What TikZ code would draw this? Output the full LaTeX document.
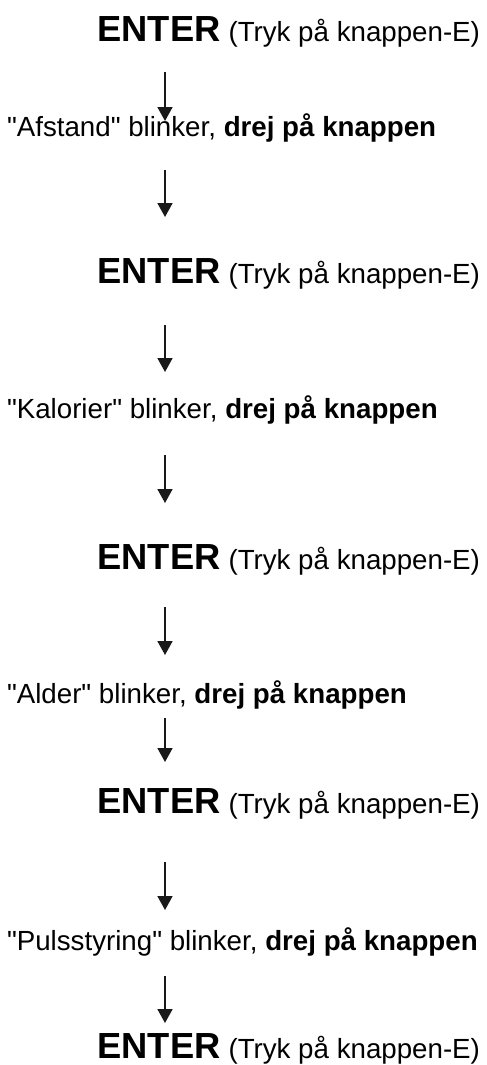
\documentclass[tikz,border=0pt]{standalone}
\usepackage{fontspec}
\setmainfont{Liberation Sans}[Ligatures=TeXOff]
\usetikzlibrary{arrows.meta}
\newcommand{\rfont}{\fontsize{27.7}{30}\selectfont}
\newcommand{\efont}{\fontsize{36.3}{40}\selectfont\bfseries}
\tikzset{
  enterrow/.style={anchor=base west, inner sep=0pt, outer sep=0pt, text=black},
  textrow/.style={anchor=base west, inner sep=0pt, outer sep=0pt, text=black, font=\rfont},
  flowarrow/.style={line width=1.8pt, draw=black!90, -{Triangle[width=15pt,length=14pt]}}
}
\newcommand{\enterline}{{\efont ENTER}\hspace{8pt}{\rfont (Tryk på knappen-E)}}
\begin{document}
\begin{tikzpicture}[x=1pt,y=-1pt]
\useasboundingbox (0,0) rectangle (487,1065);
\node[enterrow] (e1) at (97.5,42) {\enterline};
\node[textrow] (t1) at (7,136) {"Afstand" blinker, \textbf{drej på knappen}};
\node[enterrow] (e2) at (97.5,283) {\enterline};
\node[textrow] (t2) at (7,418) {"Kalorier" blinker, \textbf{drej på knappen}};
\node[enterrow] (e3) at (97.5,569) {\enterline};
\node[textrow] (t3) at (7,703) {"Alder" blinker, \textbf{drej på knappen}};
\node[enterrow] (e4) at (97.5,813) {\enterline};
\node[textrow] (t4) at (7,950) {"Pulsstyring" blinker, \textbf{drej på knappen}};
\node[enterrow] (e5) at (97.5,1058) {\enterline};
\coordinate (a1s) at (165,72);  \coordinate (a1e) at (165,121);
\coordinate (a2s) at (165,170); \coordinate (a2e) at (165,217);
\coordinate (a3s) at (165,325); \coordinate (a3e) at (165,372);
\coordinate (a4s) at (165,455); \coordinate (a4e) at (165,503);
\coordinate (a5s) at (165,607); \coordinate (a5e) at (165,655);
\coordinate (a6s) at (165,718); \coordinate (a6e) at (165,762);
\coordinate (a7s) at (165,862); \coordinate (a7e) at (165,910);
\coordinate (a8s) at (165,976); \coordinate (a8e) at (165,1023);
\foreach \i in {1,...,8} {\draw[flowarrow] (a\i s) -- (a\i e);}
\end{tikzpicture}
\end{document}
